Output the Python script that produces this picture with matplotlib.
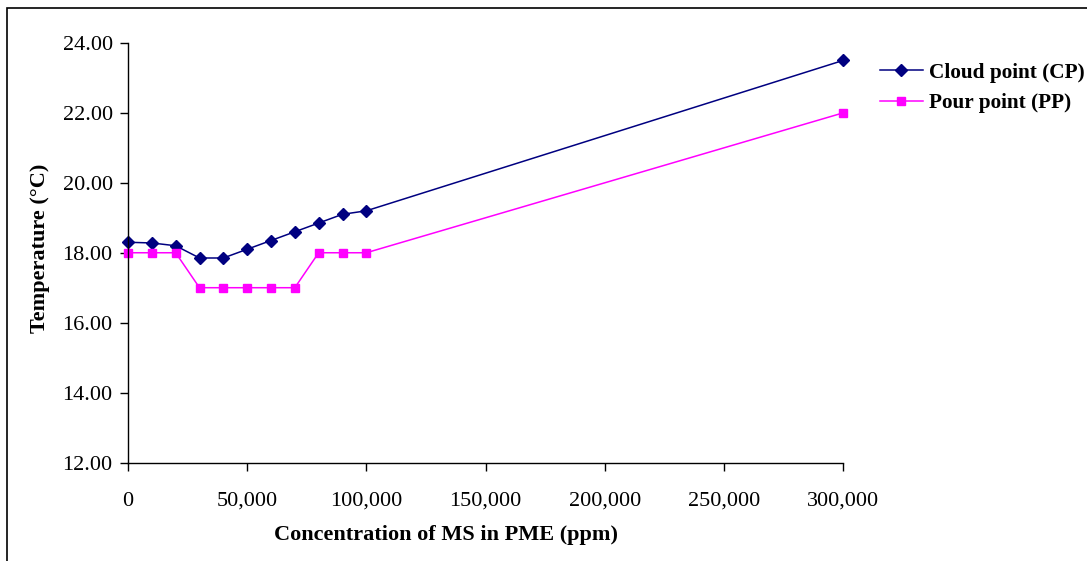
import matplotlib.pyplot as plt
from matplotlib.patches import Rectangle
from matplotlib.ticker import FuncFormatter

# concentration of MS in PME (ppm)
conc = [0, 10000, 20000, 30000, 40000, 50000, 60000, 70000, 80000, 90000, 100000, 300000]
cloud_point = [18.3, 18.28, 18.2, 17.85, 17.85, 18.1, 18.35, 18.6, 18.85, 19.1, 19.2, 23.5]
pour_point = [18, 18, 18, 17, 17, 17, 17, 17, 18, 18, 18, 22]

y_ticks = [12, 14, 16, 18, 20, 22, 24]
x_ticks = [0, 50000, 100000, 150000, 200000, 250000, 300000]

plt.rcParams['font.family'] = ['Liberation Serif', 'DejaVu Serif']

fig = plt.figure(figsize=(10.87, 5.61), dpi=100)
ax = fig.add_axes([128 / 1087, 1 - 462.5 / 561, (843 - 128) / 1087, (462.5 - 43) / 561])

ax.plot(conc, cloud_point, color='#000080', lw=1.1, marker='D', ms=6.3,
        label='Cloud point (CP)')
ax.plot(conc, pour_point, color='#FF00FF', lw=1.1, marker='s', ms=6,
        label='Pour point (PP)')

ax.set_xlim(0, 300000)
ax.set_ylim(12, 24)
ax.set_xticks(x_ticks)
ax.set_yticks(y_ticks)
ax.xaxis.set_major_formatter(FuncFormatter(lambda v, p: f'{int(v):,}'))
ax.yaxis.set_major_formatter(FuncFormatter(lambda v, p: f'{v:.2f}'))
ax.tick_params(labelsize=16, direction='out', length=6, width=1, color='black')
ax.tick_params(axis='x', pad=15)
ax.tick_params(axis='y', pad=5)
for s in ['top', 'right']:
    ax.spines[s].set_visible(False)
for s in ['left', 'bottom']:
    ax.spines[s].set_linewidth(1)
for p in ax.get_lines():
    p.set_clip_on(False)

ax.set_xlabel('Concentration of MS in PME (ppm)', fontsize=16, fontweight='bold',
              labelpad=10, x=0.445)
ax.set_ylabel('Temperature (°C)', fontsize=16, fontweight='bold',
              labelpad=9, y=0.51)

ax.legend(loc='upper left', bbox_to_anchor=(1.04, 0.973), frameon=False,
          prop={'size': 15.3, 'weight': 'bold'}, handlelength=2.0,
          handletextpad=0.3, labelspacing=0.5, borderaxespad=0)

# outer chart border
fig.patches.append(Rectangle((7 / 1087, -0.05), 1.05, 1 - 8 / 561 + 0.05,
                             transform=fig.transFigure, fill=False,
                             edgecolor='black', lw=1.2))

fig.savefig('out.png', dpi=100)
